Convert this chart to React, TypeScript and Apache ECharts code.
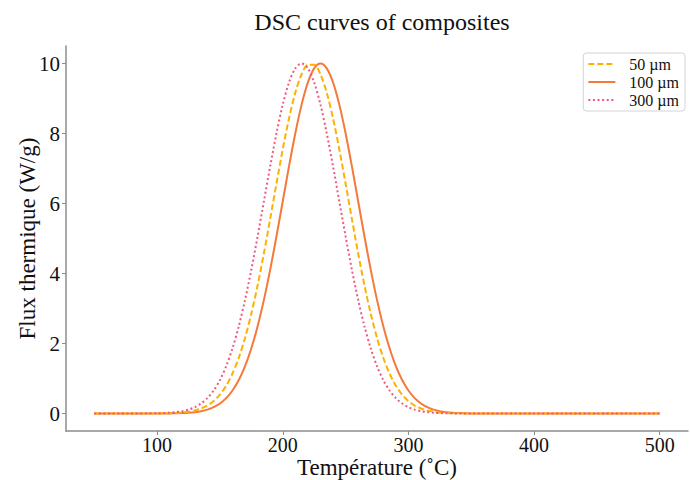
import React, { useEffect, useRef } from "react";
import * as echarts from "echarts";

const temps = [
  50, 75, 100, 105, 110, 115, 120, 125, 130, 135, 140, 145, 150, 155, 160, 165, 170, 175, 180, 185,
  190, 195, 200, 205, 210, 215, 220, 225, 230, 235, 240, 245, 250, 255, 260, 265, 270, 275, 280,
  285, 290, 295, 300, 305, 310, 315, 320, 325, 330, 335, 340, 345, 350, 375, 400, 425, 450, 475, 500,
];

const flux50 = [
  0, 0, 0.002, 0.005, 0.009, 0.016, 0.029, 0.051, 0.086, 0.142, 0.228, 0.355, 0.539, 0.796, 1.142,
  1.593, 2.163, 2.855, 3.666, 4.578, 5.561, 6.57, 7.548, 8.435, 9.169, 9.692, 9.965, 9.965, 9.692,
  9.169, 8.435, 7.548, 6.57, 5.561, 4.578, 3.666, 2.855, 2.163, 1.593, 1.142, 0.796, 0.539, 0.355,
  0.228, 0.142, 0.086, 0.051, 0.029, 0.016, 0.009, 0.005, 0.002, 0.001, 0, 0, 0, 0, 0, 0,
];

const flux100 = [
  0, 0, 0.001, 0.002, 0.003, 0.007, 0.012, 0.022, 0.039, 0.066, 0.111, 0.181, 0.286, 0.439, 0.657,
  0.956, 1.353, 1.863, 2.494, 3.247, 4.111, 5.063, 6.065, 7.066, 8.007, 8.825, 9.46, 9.862, 10.0,
  9.862, 9.46, 8.825, 8.007, 7.066, 6.065, 5.063, 4.111, 3.247, 2.494, 1.863, 1.353, 0.956, 0.657,
  0.439, 0.286, 0.181, 0.111, 0.066, 0.039, 0.022, 0.012, 0.007, 0.003, 0, 0, 0, 0, 0, 0,
];

const flux300 = [
  0, 0, 0.007, 0.012, 0.022, 0.039, 0.066, 0.111, 0.181, 0.286, 0.439, 0.657, 0.956, 1.353, 1.863,
  2.494, 3.247, 4.111, 5.063, 6.065, 7.066, 8.007, 8.825, 9.46, 9.862, 10.0, 9.862, 9.46, 8.825,
  8.007, 7.066, 6.065, 5.063, 4.111, 3.247, 2.494, 1.863, 1.353, 0.956, 0.657, 0.439, 0.286, 0.181,
  0.111, 0.066, 0.039, 0.022, 0.012, 0.007, 0.003, 0.001, 0, 0, 0, 0, 0, 0, 0, 0,
];

const seriesNames = ["50 µm", "100 µm", "300 µm"];
const xTicks = [100, 200, 300, 400, 500];
const yTicks = [0, 2, 4, 6, 8, 10];

const FONT = "'Liberation Serif', 'DejaVu Serif', serif";
const AXIS_COLOR = "#8c8c8c";

export default function App() {
  const ref = useRef<HTMLDivElement>(null);

  useEffect(() => {
    if (!ref.current) return;
    const chart = echarts.init(ref.current, undefined, { renderer: "svg" });
    const pair = (vals: number[]) => temps.map((t, i) => [t, vals[i]]);

    const option: any = {
      animation: false,
      backgroundColor: "#ffffff",
      title: {
        text: "DSC curves of composites",
        left: 377,
        textAlign: "center",
        top: 5,
        textStyle: { fontFamily: FONT, fontSize: 24, fontWeight: "normal", color: "#111" },
      },
      legend: {
        orient: "vertical",
        right: 5,
        top: 53,
        padding: [3, 6, 3, 4],
        itemGap: 2,
        itemWidth: 27,
        itemHeight: 15,
        borderColor: "#d4d4d4",
        borderWidth: 1,
        borderRadius: 3,
        itemStyle: { opacity: 0 },
        textStyle: {
          fontFamily: FONT,
          fontSize: 16,
          lineHeight: 15,
          color: "#111",
          padding: [0, 0, 0, 9],
        },
        data: seriesNames,
      },
      grid: {
        left: 66,
        right: 2,
        top: 46,
        bottom: 49,
        containLabel: false,
        outerBoundsMode: "none",
      },
      xAxis: {
        type: "value",
        min: 27.5,
        max: 522.5,
        name: "Température (˚C)",
        nameLocation: "middle",
        nameGap: 25,
        nameMoveOverlap: false,
        nameTextStyle: { fontFamily: FONT, fontSize: 23, color: "#111" },
        splitLine: { show: false },
        axisLine: { show: true, onZero: false, lineStyle: { color: AXIS_COLOR, width: 1.5 } },
        axisTick: { show: true, length: 4, customValues: xTicks, lineStyle: { color: AXIS_COLOR } },
        axisLabel: {
          customValues: xTicks,
          margin: 4,
          fontFamily: FONT,
          fontSize: 20,
          color: "#111",
        },
      },
      yAxis: {
        type: "value",
        min: -0.5,
        max: 10.5,
        name: "Flux thermique (W/g)",
        nameLocation: "middle",
        nameGap: 27,
        nameMoveOverlap: false,
        nameTextStyle: { fontFamily: FONT, fontSize: 23, color: "#111" },
        splitLine: { show: false },
        axisLine: { show: true, onZero: false, lineStyle: { color: AXIS_COLOR, width: 1.5 } },
        axisTick: { show: true, length: 4, customValues: yTicks, lineStyle: { color: AXIS_COLOR } },
        axisLabel: {
          customValues: yTicks,
          margin: 6,
          fontFamily: FONT,
          fontSize: 21,
          color: "#111",
        },
      },
      series: [
        {
          name: seriesNames[0],
          type: "line",
          data: pair(flux50),
          showSymbol: false,
          symbol: "none",
          smooth: 0.3,
          color: "#FFB000",
          lineStyle: { color: "#FFB000", width: 2, type: [6, 3] },
          z: 3,
        },
        {
          name: seriesNames[1],
          type: "line",
          data: pair(flux100),
          showSymbol: false,
          symbol: "none",
          smooth: 0.3,
          color: "#F5793A",
          lineStyle: { color: "#F5793A", width: 2 },
          z: 2,
        },
        {
          name: seriesNames[2],
          type: "line",
          data: pair(flux300),
          showSymbol: false,
          symbol: "none",
          smooth: 0.3,
          color: "#EE5A7E",
          lineStyle: { color: "#EE5A7E", width: 2, type: [2, 2.6] },
          z: 4,
        },
      ],
    };
    chart.setOption(option);
    return () => chart.dispose();
  }, []);

  return (
    <div
      ref={ref}
      style={{ position: "fixed", left: 0, top: 0, width: 690, height: 480, background: "#fff" }}
    />
  );
}
